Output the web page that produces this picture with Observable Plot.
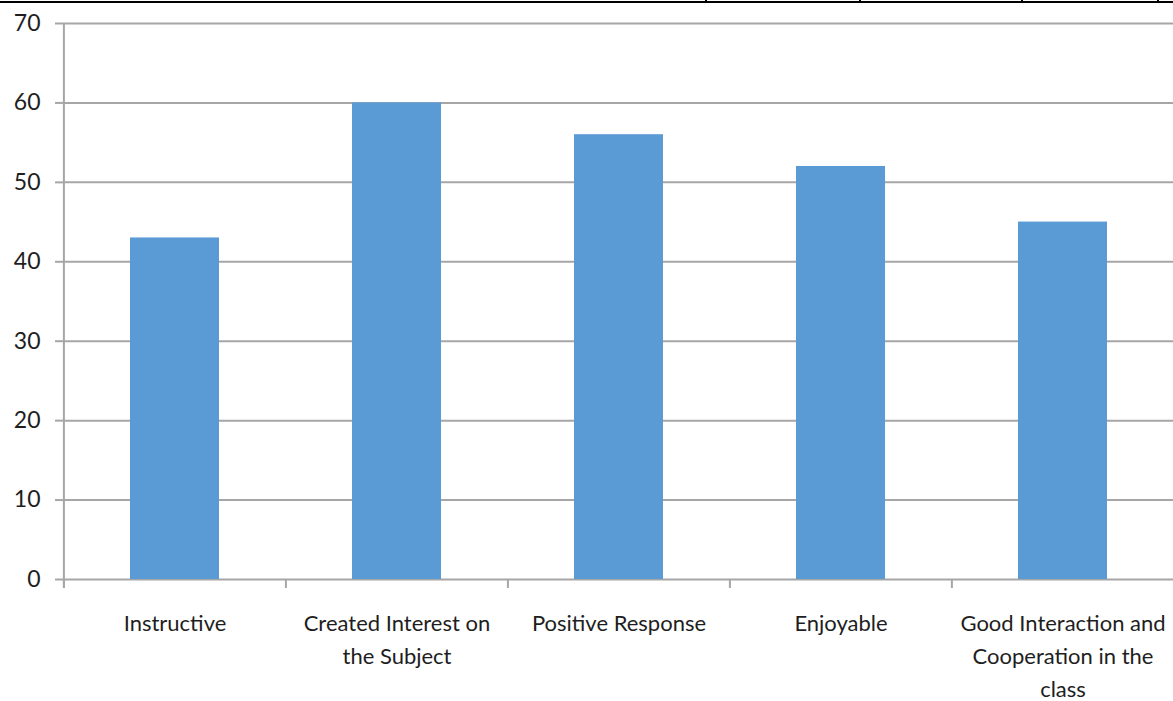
<!DOCTYPE html>
<html>
<head>
<meta charset="utf-8">
<script src="https://cdn.jsdelivr.net/npm/d3@7"></script>
<script src="https://cdn.jsdelivr.net/npm/@observablehq/plot@0.6"></script>
<style>
  html, body { margin: 0; padding: 0; background: #fff; overflow: hidden; }
  #wrap { position: relative; width: 1173px; height: 701px; }
  #topline { position: absolute; left: 0; top: 1px; width: 1173px; height: 2px; background: #000; }
  .vt { position: absolute; top: 0; width: 2px; height: 2px; background: #000; }
  #chart { position: absolute; left: 0; top: 0; }
</style>
</head>
<body>
<div id="wrap">
  <div id="chart"></div>
  <div id="topline"></div>
  <div class="vt" style="left:705px"></div>
  <div class="vt" style="left:859px"></div>
  <div class="vt" style="left:1021px"></div>
  <div class="vt" style="left:1157px"></div>
</div>
<script>
const categories = [
  "Instructive",
  "Created Interest on\nthe Subject",
  "Positive Response",
  "Enjoyable",
  "Good Interaction and\nCooperation in the\nclass"
];
const values = [43, 60, 56, 52, 45];
const yTicks = [0, 10, 20, 30, 40, 50, 60, 70];

const data = categories.map((c, i) => ({category: c, value: values[i]}));

const W = 1173, H = 701;
const mL = 63, mR = -1, mT = 23, mB = 122;
const step = (W - mL - mR) / categories.length;
const font = "Lato, 'Open Sans', sans-serif";
const grid = "#a6a6a6";

const chart = Plot.plot({
  width: W,
  height: H,
  marginLeft: mL,
  marginRight: mR,
  marginTop: mT,
  marginBottom: mB,
  style: {fontFamily: font, background: "transparent", color: "#1e1e1e"},
  x: {domain: categories, paddingInner: 0.6, paddingOuter: 0.3, label: null},
  y: {domain: [0, 70], label: null},
  marks: [
    Plot.ruleY(yTicks, {y: d => d, stroke: grid, strokeWidth: 2}),
    Plot.barY(data, {x: "category", y: "value", fill: "#5b9bd5"}),
    // category boundary ticks below the x axis line
    Plot.ruleX(categories, {x: d => d, dx: -step / 2, y1: 0, y2: 0, insetBottom: -9, stroke: grid, strokeWidth: 2}),
    // vertical axis line
    Plot.ruleX(categories.slice(0, 1), {x: d => d, dx: -step / 2, y1: 70, y2: 0, insetBottom: -9, stroke: grid, strokeWidth: 2}),
    Plot.axisY({ticks: yTicks, tickSize: 8, tickPadding: 15, stroke: grid, strokeWidth: 2, fontSize: 23, label: null, fill: "#1e1e1e"}),
    Plot.axisX({tickSize: 0, tickPadding: 28, fontSize: 22, lineHeight: 1.5, label: null, fill: "#1e1e1e"})
  ]
});
document.getElementById("chart").appendChild(chart);
</script>
</body>
</html>
